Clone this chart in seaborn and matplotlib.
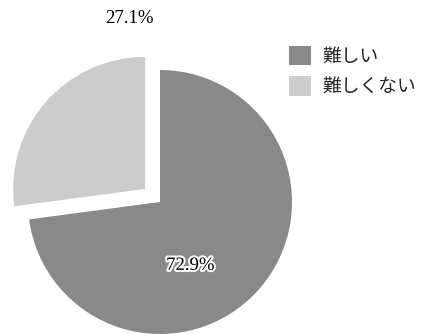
import seaborn as sns
import matplotlib.pyplot as plt
import matplotlib.patheffects as pe
from matplotlib.patches import Patch

labels = ["難しい", "難しくない"]
shares = [72.9, 27.1]
colors = ["#898989", "#cbcccb"]
explode = [0, 0.15]

sns.set_theme(style="white")
plt.rcParams['font.family'] = ['Liberation Serif', 'Noto Sans CJK JP']

fig = plt.figure(figsize=(4.31, 3.34), dpi=100)
ax = fig.add_axes([28 / 431, 0, 264 / 431, 264 / 334])

wedges, texts, autotexts = ax.pie(
    shares,
    colors=colors,
    explode=explode,
    startangle=90,
    counterclock=False,
    autopct="%.1f%%",
    wedgeprops=dict(linewidth=0),
    textprops=dict(fontsize=13.5, color="black"),
)
ax.set_xlim(-1, 1)
ax.set_ylim(-1, 1)
ax.set_aspect("equal")
for w in wedges:
    w.set_clip_on(False)

# label placement as in the original
autotexts[0].set_position((0.23, -0.48))
autotexts[0].set_path_effects([pe.withStroke(linewidth=3, foreground="white")])
autotexts[1].set_position((-0.23, 1.39))
for t in autotexts:
    t.set_clip_on(False)

handles = [Patch(facecolor=c, edgecolor="none") for c in colors]
fig.legend(
    handles, labels,
    loc="upper left",
    bbox_to_anchor=(272 / 431, 1 - 29 / 334),
    frameon=False,
    prop=dict(family=['Noto Sans CJK JP'], size=13.5),
    handlelength=1.2, handleheight=1.2,
    labelspacing=0.5, handletextpad=0.6,
)

fig.savefig("out.png", dpi=100)
